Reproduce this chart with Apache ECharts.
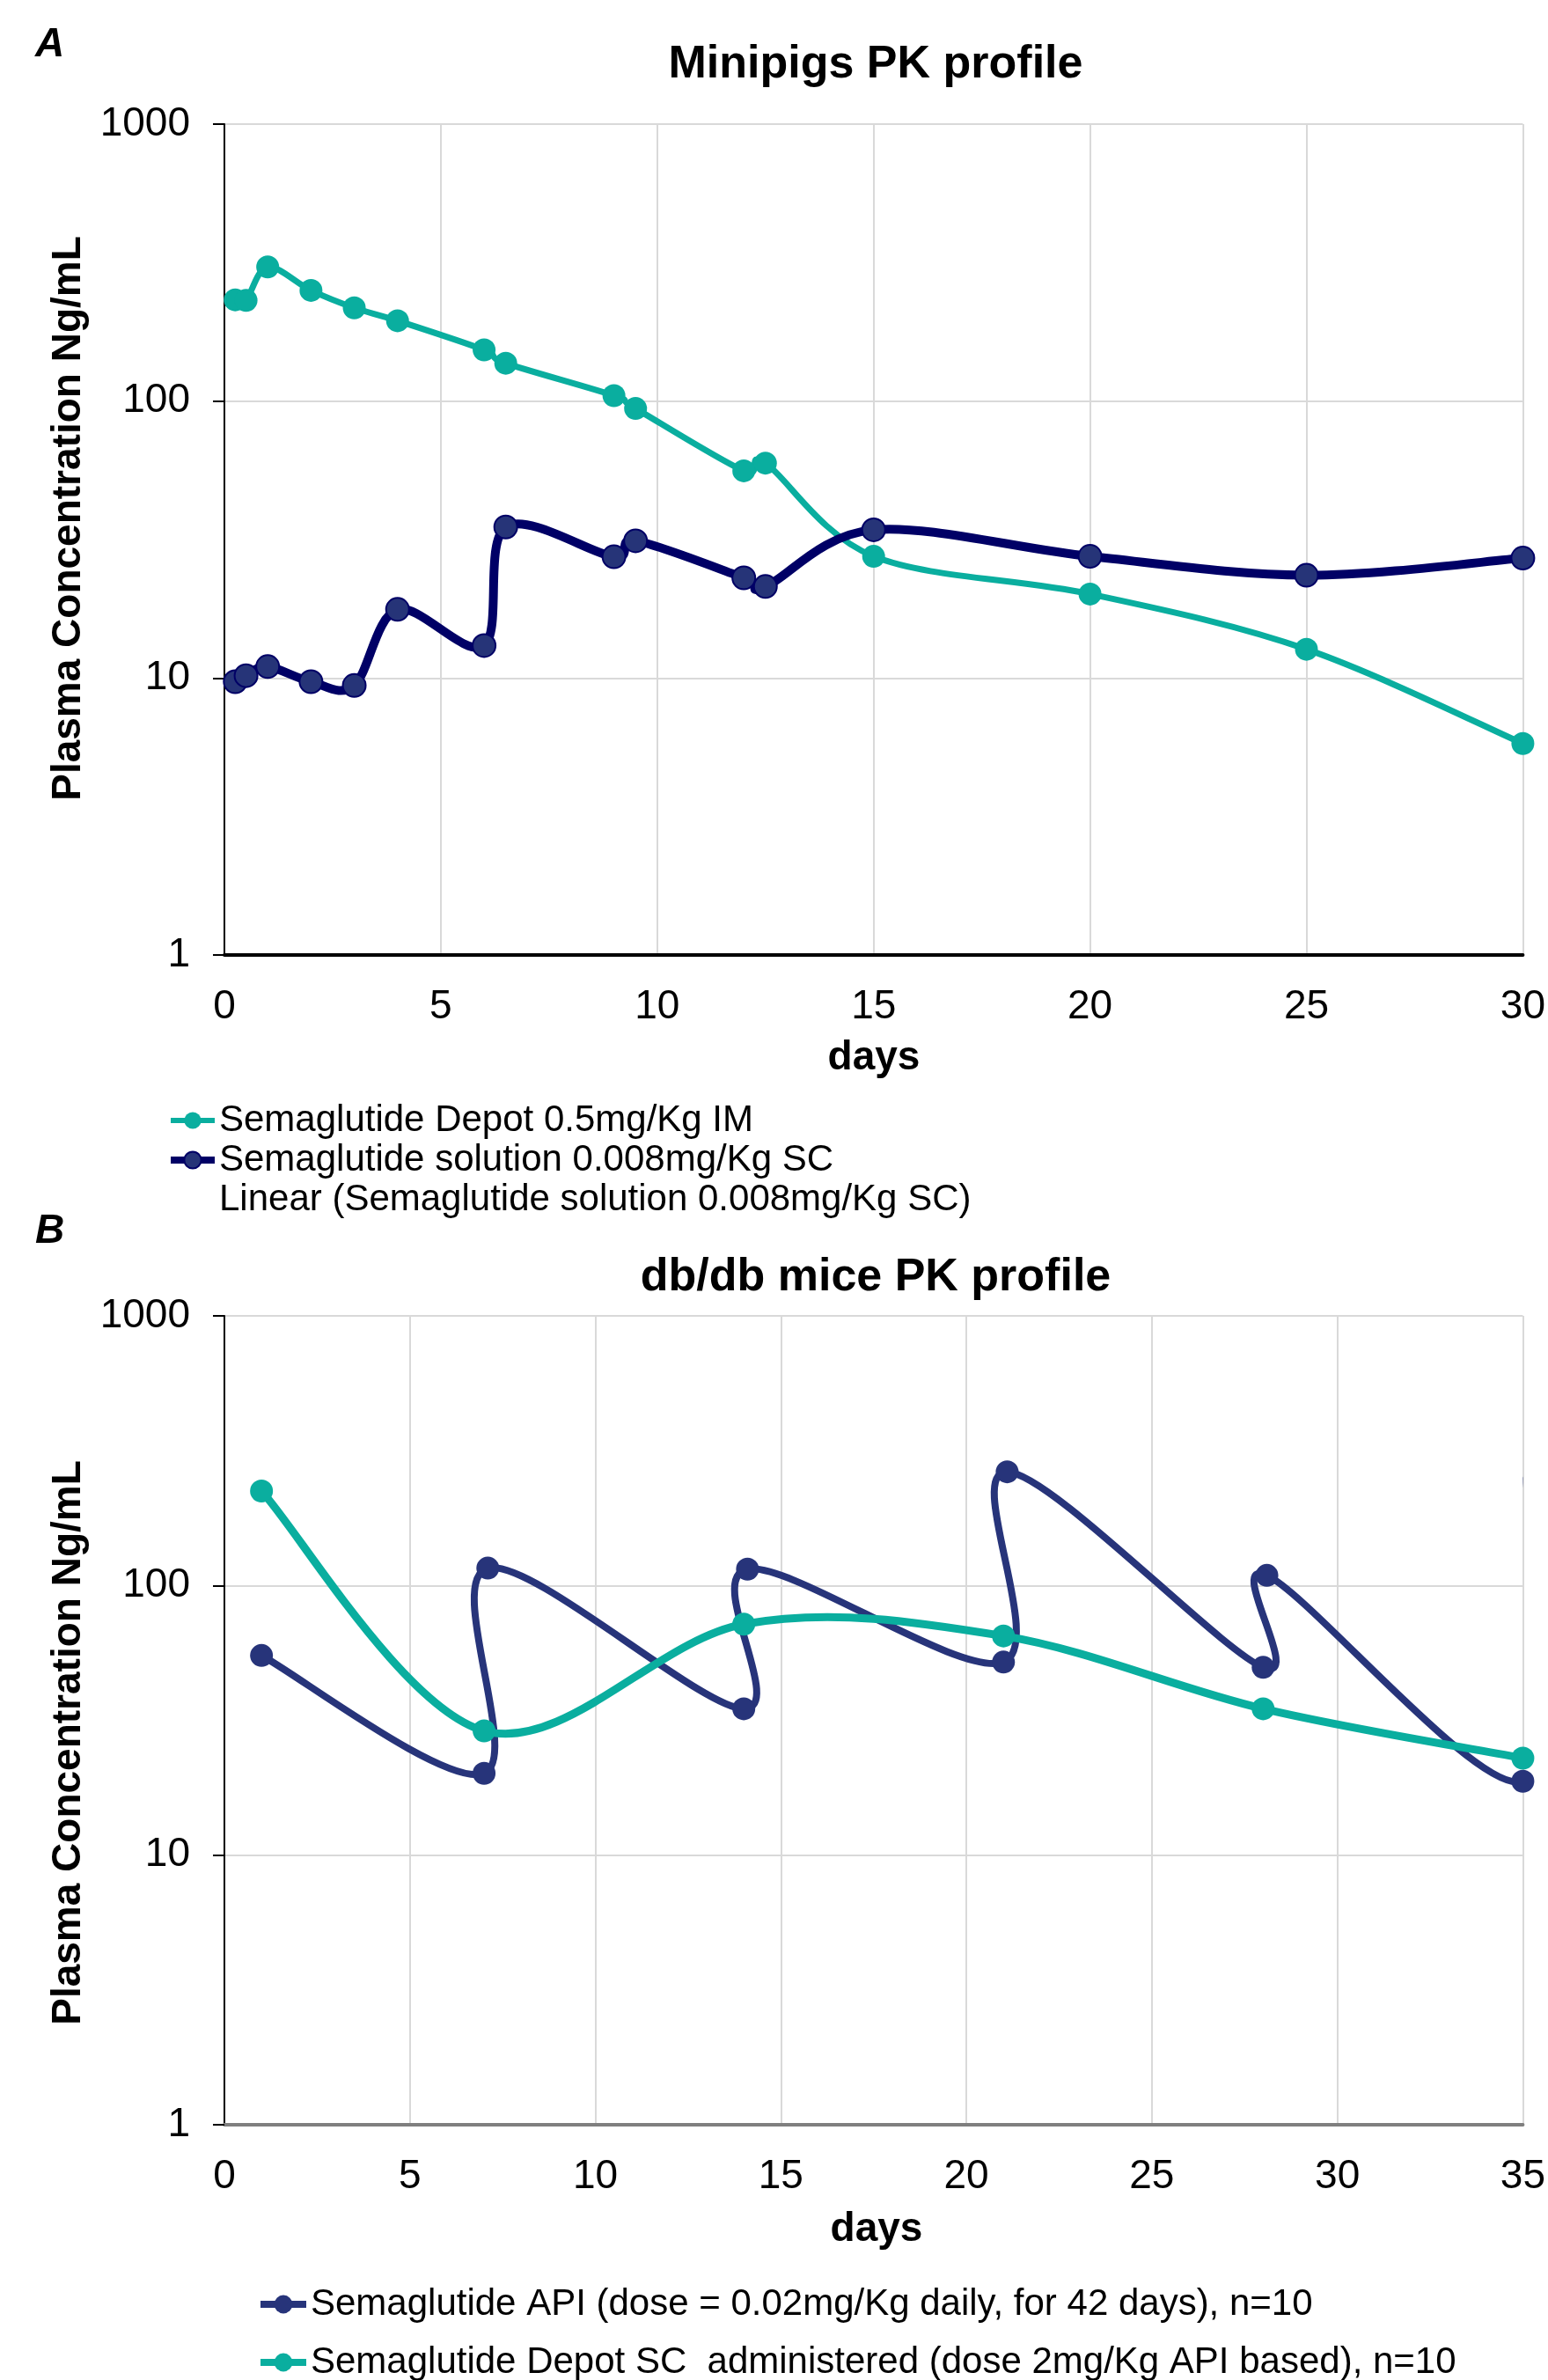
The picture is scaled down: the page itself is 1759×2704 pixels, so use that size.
<!DOCTYPE html>
<html>
<head>
<meta charset="utf-8">
<script src="https://cdn.jsdelivr.net/npm/echarts@6/dist/echarts.min.js"></script>
<style>
html,body{margin:0;padding:0;background:#fff;}
#chart{width:1759px;height:2704px;}
</style>
</head>
<body>
<div id="chart"></div>
<script>
// ---------- Data: Panel A (Minipigs) ----------
const daysA = [0.25, 0.5, 1, 2, 3, 4, 6, 6.5, 9, 9.5, 12, 12.5, 15, 20, 25, 30];
const depotA = [232, 231, 305, 251, 217, 195, 153, 137, 104.6, 94, 56, 59.7, 27.5, 20.1, 12.7, 5.8];
const solutionA = [9.7, 10.2, 11.0, 9.7, 9.4, 17.7, 13.1, 35.1, 27.4, 31.3, 23.0, 21.4, 34.3, 27.5, 23.5, 27.1];
const namesA = ['Semaglutide Depot 0.5mg/Kg IM', 'Semaglutide solution 0.008mg/Kg SC', 'Linear (Semaglutide solution 0.008mg/Kg SC)'];

// ---------- Data: Panel B (db/db mice) ----------
const daysApiB = [1, 7, 7.1, 14, 14.1, 21, 21.1, 28, 28.1, 35, 35.1];
const apiB = [55, 20.1, 116, 34.9, 115, 52, 264, 49.7, 109, 18.8, 250];
const daysDepotB = [1, 7, 14, 21, 28, 35];
const depotB = [224, 28.9, 71.9, 65, 34.9, 22.9];
const namesB = ['Semaglutide API (dose = 0.02mg/Kg daily, for 42 days), n=10', 'Semaglutide Depot SC  administered (dose 2mg/Kg API based), n=10'];

const titles = ['Minipigs PK profile', 'db/db mice PK profile'];
const panelLetters = ['A', 'B'];
const xLabel = 'days';
const yLabel = 'Plasma Concentration Ng/mL';

const pair = (xs, ys) => xs.map((x, i) => [x, ys[i]]);

const FONT = "'Liberation Sans', Arial, sans-serif";
const TEAL = '#0AAE9F';
const NAVY_A_LINE = '#000066';
const NAVY_MARK = '#263478';
const NAVY_B = '#27347A';

function yAxisCfg(gridIndex) {
  return {
    gridIndex, type: 'log', logBase: 10, min: 1, max: 1000,
    axisLine: { show: true, lineStyle: { color: '#000', width: 2 } },
    axisTick: { show: true, length: 13, inside: false, lineStyle: { color: '#000', width: 2 } },
    axisLabel: { color: '#000', fontSize: 46, fontFamily: FONT, margin: 39, formatter: v => String(v) },
    splitLine: { show: true, lineStyle: { color: '#D9D9D9', width: 2 } },
    minorTick: { show: false }
  };
}
function xAxisCfg(gridIndex, max, lineColor, lineWidth) {
  return {
    gridIndex, type: 'value', min: 0, max, interval: 5,
    axisLine: { show: true, onZero: false, lineStyle: { color: lineColor, width: lineWidth } },
    axisTick: { show: false },
    axisLabel: { color: '#000', fontSize: 46, fontFamily: FONT, margin: 36, showMaxLabel: true },
    splitLine: { show: true, lineStyle: { color: '#D9D9D9', width: 2 } }
  };
}

const textStyleBold = (size) => ({ fill: '#000', font: `bold ${size}px ${FONT}`, textAlign: 'center', textVerticalAlign: 'middle' });

// Smooth curve (Excel-like cardinal spline) drawn through the library's coordinate mapping
function splineSeries(xs, ys, gridIdx, color, width, z) {
  return {
    type: 'custom', xAxisIndex: gridIdx, yAxisIndex: gridIdx, z, silent: true, clip: true,
    data: pair(xs, ys),
    renderItem: function (params, api) {
      if (params.dataIndex !== 0) return null;
      const pts = xs.map((x, i) => api.coord([x, ys[i]]));
      const children = [];
      for (let i = 0; i < pts.length - 1; i++) {
        const p0 = pts[Math.max(i - 1, 0)], p1 = pts[i], p2 = pts[i + 1], p3 = pts[Math.min(i + 2, pts.length - 1)];
        children.push({
          type: 'bezierCurve',
          shape: {
            x1: p1[0], y1: p1[1], x2: p2[0], y2: p2[1],
            cpx1: p1[0] + (p2[0] - p0[0]) / 6, cpy1: p1[1] + (p2[1] - p0[1]) / 6,
            cpx2: p2[0] - (p3[0] - p1[0]) / 6, cpy2: p2[1] - (p3[1] - p1[1]) / 6
          },
          style: { stroke: color, lineWidth: width, fill: null, lineCap: 'round', lineJoin: 'round' }
        });
      }
      const cs = params.coordSys;
      return {
        type: 'group', children,
        clipPath: { type: 'rect', shape: { x: cs.x, y: cs.y, width: cs.width + 3, height: cs.height } }
      };
    }
  };
}

function markerSeries(name, xs, ys, gridIdx, itemStyle, z, size) {
  return {
    name, type: 'line', xAxisIndex: gridIdx, yAxisIndex: gridIdx,
    data: pair(xs, ys), symbol: 'circle', symbolSize: size, showSymbol: true,
    lineStyle: { opacity: 0, width: 0 }, itemStyle, z
  };
}

const option = {
  backgroundColor: '#fff',
  animation: false,
  grid: [
    { left: 255, top: 141, width: 1477, height: 944 },
    { left: 255, top: 1495, width: 1484, height: 919 }
  ],
  xAxis: [ xAxisCfg(0, 30, '#000', 4), xAxisCfg(1, 35, '#7F7F7F', 4) ],
  yAxis: [ yAxisCfg(0), yAxisCfg(1) ],
  legend: [
    {
      orient: 'vertical', left: 190, top: 1252, height: 200, itemGap: 3, itemWidth: 50, itemHeight: 24, padding: 0,
      textStyle: { color: '#000', fontSize: 42, fontFamily: FONT },
      data: [
        { name: namesA[0], lineStyle: { opacity: 1, width: 6, color: TEAL } },
        { name: namesA[1], lineStyle: { opacity: 1, width: 8, color: NAVY_A_LINE } },
        { name: namesA[2], icon: 'none' }
      ]
    },
    {
      orient: 'vertical', left: 292, top: 2597, height: 160, itemGap: 24, itemWidth: 52, itemHeight: 26, padding: 0,
      textStyle: { color: '#000', fontSize: 42, fontFamily: FONT },
      data: [
        { name: namesB[0], lineStyle: { opacity: 1, width: 8, color: NAVY_B } },
        { name: namesB[1], lineStyle: { opacity: 1, width: 8, color: TEAL } }
      ]
    }
  ],
  graphic: [
    { type: 'text', left: 40, top: 28, style: { text: panelLetters[0], fill: '#000', font: `italic bold 46px ${FONT}` } },
    { type: 'text', left: 40, top: 1376, style: { text: panelLetters[1], fill: '#000', font: `italic bold 46px ${FONT}` } },
    { type: 'text', x: 995, y: 74, style: Object.assign({ text: titles[0] }, textStyleBold(52)) },
    { type: 'text', x: 995, y: 1452, style: Object.assign({ text: titles[1] }, textStyleBold(52)) },
    { type: 'text', x: 993, y: 1202, style: Object.assign({ text: xLabel }, textStyleBold(46)) },
    { type: 'text', x: 996, y: 2533, style: Object.assign({ text: xLabel }, textStyleBold(46)) },
    { type: 'text', x: 78, y: 589, rotation: Math.PI / 2, style: Object.assign({ text: yLabel }, textStyleBold(46)) },
    { type: 'text', x: 78, y: 1980, rotation: Math.PI / 2, style: Object.assign({ text: yLabel }, textStyleBold(46)) }
  ],
  series: [
    // Panel A curves (teal under navy)
    splineSeries(daysA, depotA, 0, TEAL, 7, 2),
    splineSeries(daysA, solutionA, 0, NAVY_A_LINE, 10, 2),
    markerSeries(namesA[0], daysA, depotA, 0, { color: TEAL }, 3, 26),
    markerSeries(namesA[1], daysA, solutionA, 0, { color: NAVY_MARK, borderColor: NAVY_A_LINE, borderWidth: 2 }, 3, 26),
    { name: namesA[2], type: 'line', xAxisIndex: 0, yAxisIndex: 0, data: [], symbol: 'none', lineStyle: { opacity: 0 } },
    // Panel B curves (navy under teal)
    splineSeries(daysApiB, apiB, 1, NAVY_B, 8, 2),
    splineSeries(daysDepotB, depotB, 1, TEAL, 9, 2),
    markerSeries(namesB[0], daysApiB, apiB, 1, { color: NAVY_B }, 3, 26),
    markerSeries(namesB[1], daysDepotB, depotB, 1, { color: TEAL }, 3, 26)
  ]
};

const chart = echarts.init(document.getElementById('chart'), null, { renderer: 'canvas' });
chart.setOption(option);
</script>
</body>
</html>
